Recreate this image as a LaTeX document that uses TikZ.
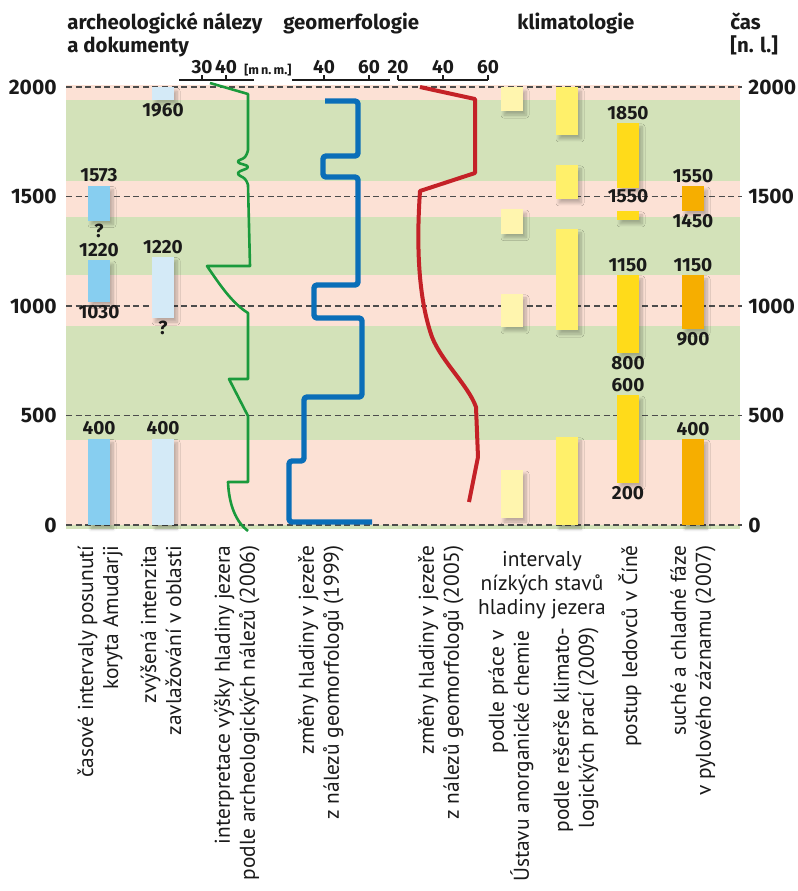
\documentclass[tikz,border=0pt]{standalone}
\usepackage{fontspec}
\setmainfont{Fira Sans}
\newfontfamily\labelfont{PT Sans}
\usetikzlibrary{shadows.blur}

\definecolor{bandpink}{HTML}{FCE1D5}
\definecolor{bandgreen}{HTML}{D3E2B9}
\definecolor{riverblue}{HTML}{87CEF0}
\definecolor{irrigblue}{HTML}{D4EAF7}
\definecolor{paleyellow}{HTML}{FFF5AE}
\definecolor{lightyellow}{HTML}{FFF06A}
\definecolor{glacier}{HTML}{FFDB1A}
\definecolor{dryorange}{HTML}{F6AE00}
\definecolor{archgreen}{HTML}{1A9A3C}
\definecolor{geoblue}{HTML}{0A6EB8}
\definecolor{geored}{HTML}{C42127}
\definecolor{txt}{HTML}{1A1A1A}

\tikzset{
  span/.style={fill=#1,blur shadow={shadow xshift=1.5pt,shadow yshift=-2pt,shadow blur radius=1.5pt,shadow blur steps=8,shadow blur extra rounding=0pt,shadow opacity=25}},
  grid/.style={draw=black!70,line width=0.65pt,dash pattern=on 3pt off 1.8pt},
  scaleline/.style={draw=txt,line width=1pt},
  yearlbl/.style={font=\bfseries\fontsize{9.5}{11}\selectfont,text=txt,inner sep=1.5pt},
  axislbl/.style={font=\bfseries\fontsize{10.5}{12}\selectfont,text=txt,inner sep=0pt},
  head/.style={font=\bfseries\fontsize{10.2}{11.5}\selectfont,text=txt,align=left,inner sep=0pt,anchor=base west},
  collbl/.style={font=\labelfont\fontsize{10.7}{12.5}\selectfont,text=txt,rotate=90,anchor=east,align=right,inner sep=0pt}
}

\begin{document}
\begin{tikzpicture}[x=0.5pt,y=-0.5pt]
\useasboundingbox (0,0) rectangle (798,891);

\node[head] (arch) at (67,52) {archeologické nálezy\\a dokumenty};
\node[head] (geo) at (283,29) {geomerfologie};
\node[head] (klima) at (517,29) {klimatologie};
\node[head] (cas) at (730,52) {čas\\{}[n. l.]};

\draw[scaleline] (179,80) -- (254,80);
\draw[scaleline] (292,80) -- (390,80);
\draw[scaleline] (398,80) -- (488,80);
\foreach \x/\v in {202/30,226/40,324/40,369/60,398/20,443/40,488/60}{
  \draw[scaleline] (\x,80) -- (\x,75);
  \node[yearlbl,anchor=base] (sc\x) at (\x,73) {\v};
}
\node[font=\bfseries\fontsize{6.3}{7}\selectfont,text=txt,inner sep=0pt,anchor=base west] (mnm) at (244,74) {[m\,n.\,m.]};

\begin{scope}[yshift=-262.5pt,y=0.1095pt]
\foreach \a/\b/\c in {2010/1940/bandpink,1940/1570/bandgreen,1570/1405/bandpink,1405/1140/bandgreen,1140/910/bandpink,910/390/bandgreen,390/0/bandpink,0/-18/bandgreen}
  \fill[\c] (66,\a) rectangle (740,\b);
\foreach \t in {0,500,...,2000}{
  \draw[grid] (66,\t) -- (742,\t);
  \node[axislbl,anchor=east] (left\t) at (57,\t) {\t};
  \node[axislbl,anchor=west] (right\t) at (748,\t) {\t};
}

\foreach \a/\b in {1550/1390,1210/1020,395/0}
  \fill[span=riverblue] (88,\a) rectangle (110,\b);
\foreach \a/\b in {2000/1940,1225/945,395/0}
  \fill[span=irrigblue] (152,\a) rectangle (174,\b);
\foreach \a/\b in {2000/1890,1443/1330,1055/905,251/32}
  \fill[span=paleyellow] (501,\a) rectangle (523,\b);
\foreach \a/\b in {2000/1781,1644/1489,1352/890,402/0}
  \fill[span=lightyellow] (556,\a) rectangle (578,\b);
\foreach \a/\b in {1836/1539,1434/1393,1142/785,593/192}
  \fill[span=glacier] (617,\a) rectangle (639,\b);
\foreach \a/\b in {1548/1434,1142/895,393/0}
  \fill[span=dryorange] (682,\a) rectangle (704,\b);

\node[yearlbl,above] (r1a) at (99,1550) {1573};
\node[yearlbl,below] (r1b) at (99,1390) {?};
\node[yearlbl,above] (r2a) at (99,1210) {1220};
\node[yearlbl,below] (r2b) at (99,1020) {1030};
\node[yearlbl,above] (r3a) at (99,395) {400};

\node[yearlbl,below] (i1b) at (163,1940) {1960};
\node[yearlbl,above] (i2a) at (163,1225) {1220};
\node[yearlbl,below] (i2b) at (163,945) {?};
\node[yearlbl,above] (i3a) at (163,395) {400};

\node[yearlbl,above] (g1a) at (628,1836) {1850};
\node[yearlbl] (g1b) at (628,1500) {1550};
\node[yearlbl,above] (g2a) at (628,1142) {1150};
\node[yearlbl,below] (g2b) at (628,785) {800};
\node[yearlbl,above] (g3a) at (628,593) {600};
\node[yearlbl,below] (g3b) at (628,192) {200};

\node[yearlbl,above] (d1a) at (693,1548) {1550};
\node[yearlbl,below] (d1b) at (693,1434) {1450};
\node[yearlbl,above] (d2a) at (693,1142) {1150};
\node[yearlbl,below] (d2b) at (693,895) {900};
\node[yearlbl,above] (d3a) at (693,393) {400};
\end{scope}

\draw[archgreen,line width=1.3pt,line join=round] (210,83) -- (248,94) -- (248,150)
  -- plot[smooth,tension=0.8] coordinates {(248,150) (245,157) (238,162) (248,167) (238,173) (245,179) (248,185)}
  -- (250,266) -- (207,266) .. controls (220,285) and (232,303) .. (248,313)
  -- (248,379) -- (229,379) -- (248,416) -- (248,482) -- (228,482)
  .. controls (229,505) and (236,522) .. (248,531);

\draw[geoblue,line width=2.7pt,line join=round,rounded corners=1.5pt] (325,101) -- (358,101) -- (358,156)
  -- (323,156) -- (323,177) -- (358,177) -- (358,285) -- (314,285) -- (314,318)
  -- (362,318) -- (362,397) -- (304,397) -- (304,461) -- (289,461) -- (289,522) -- (372,522);

\draw[geored,line width=2pt,line join=round] (420,87) -- (475,99) -- (475,173) -- (420,191)
  .. controls (416,250) and (419,300) .. (432,337) .. controls (442,362) and (468,385) .. (476,407)
  -- (478,457) -- (469,502);

\node[collbl] (lbl1) at (100,545) {časové intervaly posunutí\\koryta Amudarji};
\node[collbl] (lbl2) at (161,545) {zvýšená intenzita\\zavlažování v oblasti};
\node[collbl] (lbl3) at (237,545) {interpretace výšky hladiny jezera\\podle archeologických nálezů (2006)};
\node[collbl] (lbl4) at (321,545) {změny hladiny v jezeře\\z nálezů geomorfologů (1999)};
\node[collbl] (lbl5) at (441,545) {změny hladiny v jezeře\\z nálezů geomorfologů (2005)};
\node[font=\labelfont\fontsize{10.7}{12}\selectfont,text=txt,align=center,anchor=north,inner sep=0pt] (lbl6) at (542,551) {intervaly\\nízkých stavů\\hladiny jezera};
\node[collbl] (lbl7) at (511,630) {podle práce v\\Ústavu anorganické chemie};
\node[collbl] (lbl8) at (576,627) {podle rešerše klimato-\\logických prací (2009)};
\node[collbl] (lbl9) at (630,545) {postup ledovců v Číně};
\node[collbl] (lbl10) at (693,545) {suché a chladné fáze\\v pylového záznamu (2007)};
\end{tikzpicture}
\end{document}
